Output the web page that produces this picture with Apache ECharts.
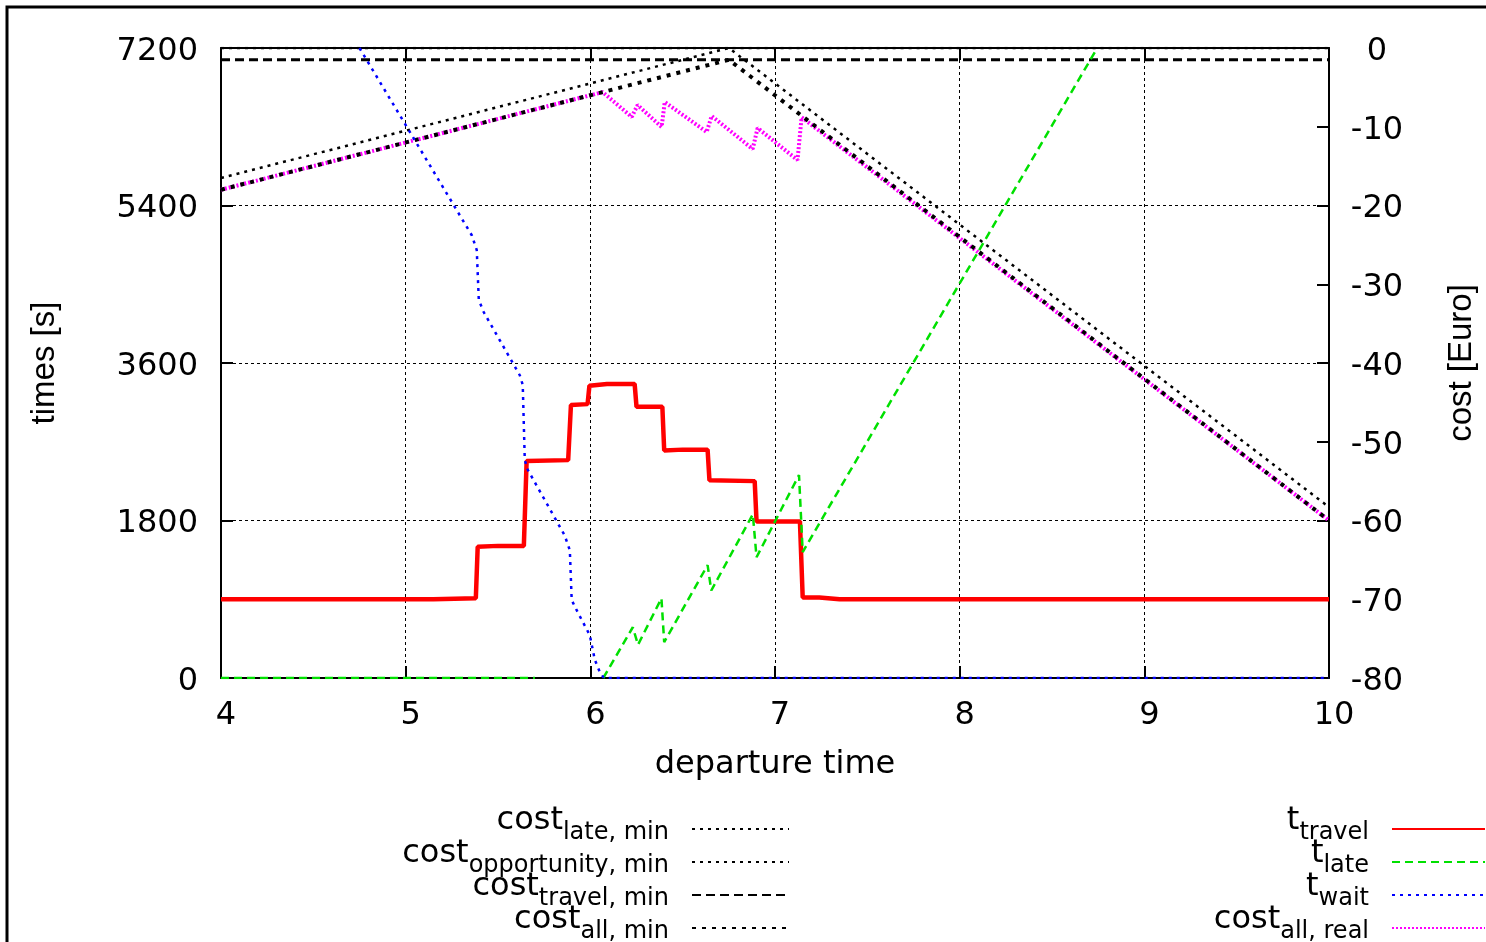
<!DOCTYPE html>
<html>
<head>
<meta charset="utf-8">
<script src="https://cdn.jsdelivr.net/npm/echarts@6/dist/echarts.min.js"></script>
<style>
html,body{margin:0;padding:0;background:#fff;}
#chart{width:1486px;height:942px;}
</style>
</head>
<body>
<div id="chart"></div>
<script>
// ---- data (x = departure time in hours) ----
const xTicks = [4, 5, 6, 7, 8, 9, 10];
const leftTicks = [0, 1800, 3600, 5400, 7200];
const rightTicks = [-80, -70, -60, -50, -40, -30, -20, -10, 0];

// times [s] (left axis)
const tTravel = [[4,900],[5.15,900],[5.38,912],[5.39,1500],[5.5,1510],[5.64,1510],[5.655,2480],[5.88,2490],[5.895,3120],[5.985,3130],[5.995,3340],[6.09,3360],[6.24,3360],[6.25,3100],[6.39,3100],[6.4,2600],[6.5,2610],[6.635,2610],[6.645,2260],[6.89,2250],[6.9,1790],[7.135,1790],[7.15,920],[7.24,920],[7.35,900],[10,900]];
const tLate = [[4,0],[5.7,0],[5.8,'-'],[6.07,0],[6.23,580],[6.258,380],[6.385,910],[6.4,410],[6.635,1290],[6.655,1000],[6.88,1870],[6.9,1380],[7.13,2320],[7.15,1440],[8.745,7200]];
const tWait = [[4.75,7200],[5.358,5060],[5.385,4890],[5.396,4320],[5.423,4180],[5.618,3460],[5.634,3350],[5.645,2490],[5.661,2380],[5.861,1630],[5.889,1460],[5.899,890],[5.932,750],[5.997,490],[6.024,210],[6.051,70],[6.073,0],[10,0]];

// cost [Euro] (right axis)
const costLateMin = [[4,0],[6.75,0],[10,-58.3]];
const costOppMin = [[4,-16.5],[6.75,0],[10,0]];
const costTravelMin = [[4,-1.5],[10,-1.5]];
const costAllMin = [[4,-18],[6.75,-1.5],[10,-60]];
const costAllReal = [[4,-18],[6.067,-5.6],[6.224,-8.76],[6.256,-7.24],[6.386,-10.03],[6.403,-6.86],[6.63,-10.67],[6.657,-8.63],[6.879,-12.83],[6.906,-10.16],[7.122,-14.22],[7.144,-8.8],[10,-60]];

// legend labels: [series name, main text, subscript]
const legendLeft = [['cost late, min','cost','late, min'],['cost opportunity, min','cost','opportunity, min'],['cost travel, min','cost','travel, min'],['cost all, min','cost','all, min']];
const legendRight = [['t travel','t','travel'],['t late','t','late'],['t wait','t','wait'],['cost all, real','cost','all, real']];

const labelMap = {};
legendLeft.concat(legendRight).forEach(function (r) { labelMap[r[0]] = '{m|' + r[1] + '}{s|' + r[2] + '}'; });

const chart = echarts.init(document.getElementById('chart'), null, {renderer: 'canvas'});
const FONT = 'DejaVu Sans';
const richText = {
  fontFamily: FONT, color: '#000',
  rich: {
    m: {fontFamily: FONT, fontSize: 32, lineHeight: 32, color: '#000', verticalAlign: 'bottom', padding: [0, 0, 8, 0]},
    s: {fontFamily: FONT, fontSize: 24, lineHeight: 24, color: '#000', verticalAlign: 'bottom', padding: [0, 18, 0, 0]}
  }
};

function line(name, data, yIdx, color, width, type, z) {
  return {
    name: name, type: 'line', data: data, xAxisIndex: 0, yAxisIndex: yIdx,
    showSymbol: false, symbol: 'none', z: z, clip: true,
    lineStyle: {color: color, width: width, type: type, cap: 'butt'},
    itemStyle: {color: color},
    emphasis: {disabled: true}
  };
}

const option = {
  animation: false,
  backgroundColor: '#fff',
  grid: {left: 221, right: 156, top: 48, bottom: 264, containLabel: false},
  xAxis: [
    {
      type: 'value', position: 'bottom', min: 4, max: 10, interval: 1,
      name: 'departure time', nameLocation: 'middle', nameGap: 71,
      nameTextStyle: {fontFamily: FONT, fontSize: 32, color: '#000'},
      axisLine: {show: true, onZero: false, lineStyle: {color: '#000', width: 2}},
      axisTick: {show: true, inside: true, length: 12, lineStyle: {color: '#000', width: 2}},
      axisLabel: {show: true, margin: 22, fontFamily: FONT, fontSize: 32, color: '#000', padding: [0, 0, 0, 10],
        formatter: function (v) { return xTicks.indexOf(v) >= 0 ? String(v) : ''; }},
      splitLine: {show: true, lineStyle: {color: '#000', width: 1, type: [3, 3]}}
    },
    {
      type: 'value', position: 'top', min: 4, max: 10, interval: 1,
      axisLine: {show: true, onZero: false, lineStyle: {color: '#000', width: 2}},
      axisTick: {show: true, inside: true, length: 12, lineStyle: {color: '#000', width: 2}},
      axisLabel: {show: false}, splitLine: {show: false}
    }
  ],
  yAxis: [
    {
      type: 'value', position: 'left', min: 0, max: 7200, interval: 1800,
      name: 'times [s]', nameLocation: 'middle', nameGap: 160, nameRotate: 90,
      nameTextStyle: {fontFamily: 'Liberation Sans', fontSize: 33, color: '#000'},
      axisLine: {show: true, onZero: false, lineStyle: {color: '#000', width: 2}},
      axisTick: {show: true, inside: true, length: 12, lineStyle: {color: '#000', width: 2}},
      axisLabel: {margin: 23, fontFamily: FONT, fontSize: 32, color: '#000', verticalAlign: 'top', lineHeight: 7,
        formatter: function (v) { return leftTicks.indexOf(v) >= 0 ? String(v) : ''; }},
      splitLine: {show: true, lineStyle: {color: '#000', width: 1, type: [3, 3]}}
    },
    {
      type: 'value', position: 'right', min: -80, max: 0, interval: 10,
      name: 'cost [Euro]', nameLocation: 'middle', nameGap: 116, nameRotate: 90,
      nameTextStyle: {fontFamily: 'Liberation Sans', fontSize: 33, color: '#000'},
      axisLine: {show: true, onZero: false, lineStyle: {color: '#000', width: 2}},
      axisTick: {show: true, inside: true, length: 12, lineStyle: {color: '#000', width: 2}},
      axisLabel: {margin: 48, align: 'center', fontFamily: FONT, fontSize: 32, color: '#000', verticalAlign: 'top', lineHeight: 7,
        formatter: function (v) { return rightTicks.indexOf(v) >= 0 ? String(v) : ''; }},
      splitLine: {show: false}
    }
  ],
  legend: [
    {
      orient: 'vertical', align: 'right', right: 696, top: 805, height: 400, padding: 0,
      itemWidth: 97, itemHeight: 10, itemGap: -7, selectedMode: false,
      data: legendLeft.map(function (r) { return r[0]; }),
      formatter: function (n) { return labelMap[n]; },
      textStyle: richText,
      itemStyle: {opacity: 0}
    },
    {
      orient: 'vertical', align: 'right', right: 0, top: 805, height: 400, padding: 0,
      itemWidth: 93, itemHeight: 10, itemGap: -7, selectedMode: false,
      data: legendRight.map(function (r) { return r[0]; }),
      formatter: function (n) { return labelMap[n]; },
      textStyle: richText,
      itemStyle: {opacity: 0}
    }
  ],
  graphic: [
    {type: 'rect', shape: {x: 7, y: 7, width: 1600, height: 1100}, style: {fill: 'none', stroke: '#000', lineWidth: 3}, silent: true, z: 100}
  ],
  series: [
    line('cost late, min', costLateMin, 1, '#000', 2.5, [3, 5], 2),
    line('cost opportunity, min', costOppMin, 1, '#000', 2.5, [3, 5], 2),
    line('cost travel, min', costTravelMin, 1, '#000', 3, [9, 5], 2),
    line('cost all, real', costAllReal, 1, '#ff00ff', 4, [2, 2], 3),
    line('cost all, min', costAllMin, 1, '#000', 4, [4, 6], 4),
    line('t travel', tTravel, 0, '#ff0000', 4.5, 'solid', 5),
    line('t late', tLate, 0, '#00e000', 2.5, [8, 5], 5),
    line('t wait', tWait, 0, '#0000ff', 2.5, [3, 5], 5)
  ]
};
chart.setOption(option);
</script>
</body>
</html>
